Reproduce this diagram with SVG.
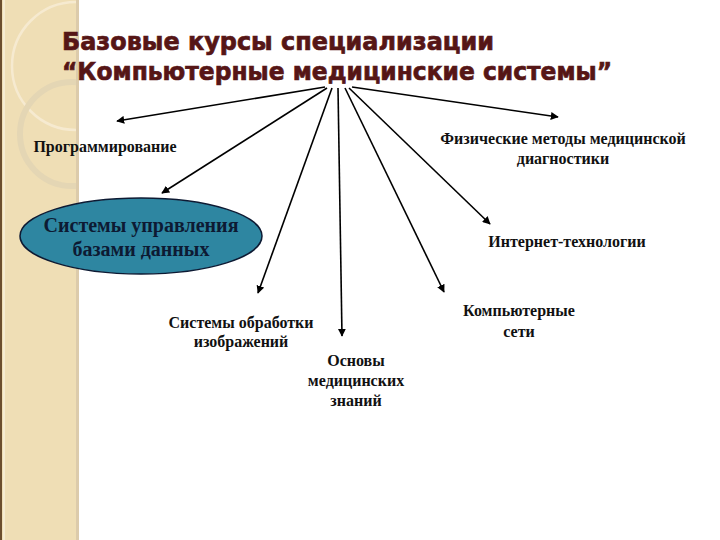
<svg xmlns="http://www.w3.org/2000/svg" width="720" height="540" viewBox="0 0 720 540">
<style>
.t{font-family:"DejaVu Sans",Verdana,sans-serif;font-weight:bold;font-size:24px;fill:#561616;stroke:#561616;stroke-width:0.7}
.l{font-family:"Liberation Serif","Times New Roman",serif;font-weight:bold;font-size:16px;fill:#111;text-anchor:middle}
.e{font-family:"Liberation Serif","Times New Roman",serif;font-weight:bold;font-size:20px;fill:#0d1a33;text-anchor:middle}
.c{stroke:#000;stroke-width:1.6;fill:none;marker-end:url(#ah)}
</style>
<defs>
<marker id="ah" viewBox="0 0 10 10" refX="9" refY="5" markerWidth="5" markerHeight="5" orient="auto" markerUnits="strokeWidth">
<path d="M0,0 L10,5 L0,10 z" fill="#000"/>
</marker>
<clipPath id="strip"><rect x="0" y="0" width="77" height="540"/></clipPath>
</defs>
<rect width="720" height="540" fill="#fff"/>
<g id="sidebar">
<rect x="0" y="0" width="78" height="540" fill="#efdeb5"/>
<g clip-path="url(#strip)">
<circle cx="76" cy="66" r="64" fill="none" stroke="#f6ead0" stroke-width="2.5"/>
<circle cx="72" cy="134" r="52" fill="none" stroke="#e4d6b4" stroke-width="6"/>
</g>
<rect x="76" y="0" width="3" height="540" fill="#dccbab"/>
<rect x="0" y="0" width="2" height="540" fill="#6b4e2e"/>
<rect x="3" y="0" width="2" height="540" fill="#f6ecd2"/>
</g>
<g id="title">
<text class="t" x="62" y="50" textLength="432" lengthAdjust="spacingAndGlyphs">Базовые курсы специализации</text>
<text class="t" x="62" y="80" textLength="550" lengthAdjust="spacingAndGlyphs">“Компьютерные медицинские системы”</text>
</g>
<g id="connectors">
<line class="c" x1="325" y1="87" x2="117" y2="121"/>
<line class="c" x1="327" y1="88" x2="162" y2="193"/>
<line class="c" x1="332" y1="88" x2="258" y2="293"/>
<line class="c" x1="338" y1="88" x2="342" y2="336"/>
<line class="c" x1="345" y1="88" x2="444" y2="292"/>
<line class="c" x1="349" y1="88" x2="490" y2="224"/>
<line class="c" x1="352" y1="87" x2="558" y2="117"/>
</g>
<g id="n-prog"><text class="l" x="105" y="152">Программирование</text></g>
<g id="n-phys">
<text class="l" x="563" y="144">Физические методы медицинской</text>
<text class="l" x="563" y="164">диагностики</text>
</g>
<g id="n-db">
<ellipse cx="141" cy="236" rx="121" ry="38" fill="#2e86a1" stroke="#0d1a33" stroke-width="1.5"/>
<text class="e" x="141" y="232">Системы управления</text>
<text class="e" x="141" y="256">базами данных</text>
</g>
<g id="n-inet"><text class="l" x="567" y="247">Интернет-технологии</text></g>
<g id="n-net">
<text class="l" x="519" y="316">Компьютерные</text>
<text class="l" x="519" y="337">сети</text>
</g>
<g id="n-img">
<text class="l" x="241" y="328">Системы обработки</text>
<text class="l" x="241" y="347">изображений</text>
</g>
<g id="n-med">
<text class="l" x="356" y="366">Основы</text>
<text class="l" x="356" y="386">медицинских</text>
<text class="l" x="356" y="406">знаний</text>
</g>
</svg>
